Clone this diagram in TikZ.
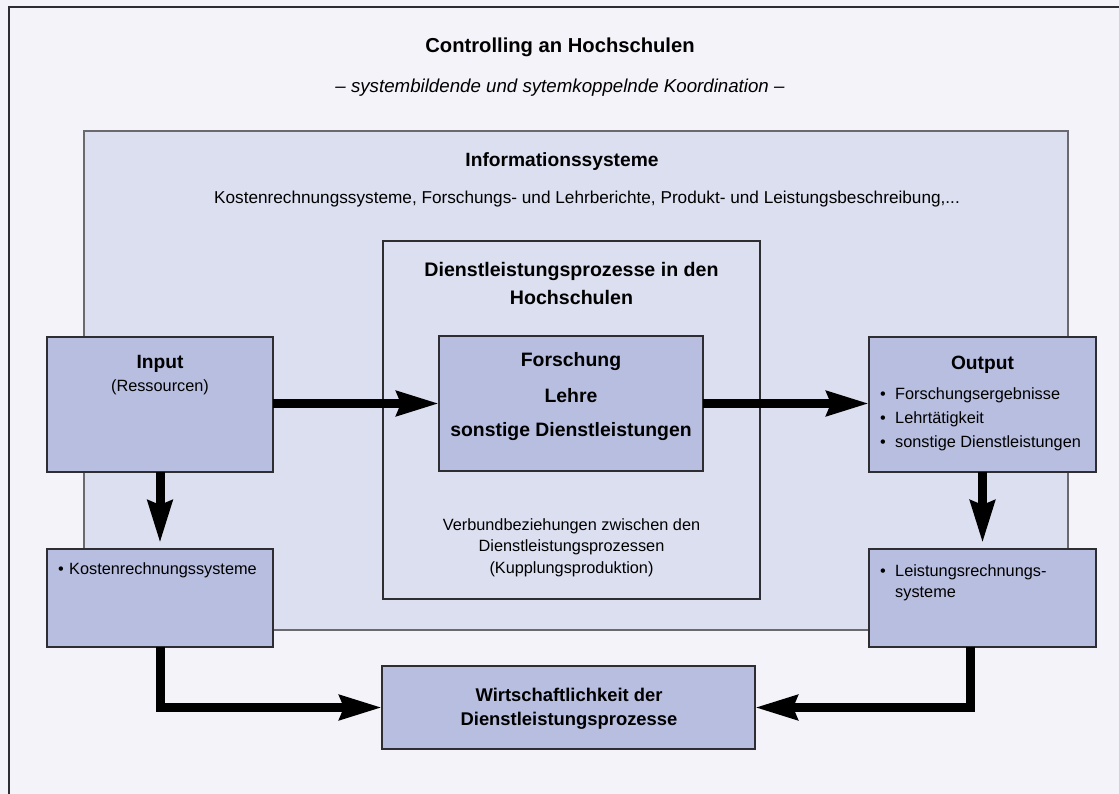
\documentclass[tikz,border=0pt]{standalone}
\usepackage{fontspec}
\setmainfont{Liberation Sans}
\usetikzlibrary{arrows.meta}
\definecolor{pagebg}{RGB}{243,243,249}
\definecolor{infofill}{RGB}{220,223,240}
\definecolor{bluefill}{RGB}{184,190,224}
\definecolor{edgegray}{RGB}{105,105,110}
\definecolor{edgedark}{RGB}{45,45,50}
\begin{document}
\begin{tikzpicture}[x=1pt,y=-1pt,
  frameline/.style={draw=edgedark, line width=1.5pt},
  infobox/.style={draw=edgegray, fill=infofill, line width=1.4pt, inner sep=0pt, outer sep=0pt},
  procbox/.style={draw=edgedark, fill=infofill, line width=1.2pt, inner sep=0pt, outer sep=0pt},
  bluebox/.style={draw=edgedark, fill=bluefill, line width=1.2pt, inner sep=0pt, outer sep=0pt},
  flow/.style={line width=9pt, line join=miter, -{Stealth[length=42pt,width=24pt,inset=4pt]}},
  plaintxt/.style={inner sep=0pt, anchor=base, font=\fontsize{16.3}{19}\selectfont},
  plainw/.style={plaintxt, anchor=base west},
  headtxt/.style={inner sep=0pt, anchor=base, font=\bfseries\fontsize{19.2}{22}\selectfont},
  titletxt/.style={inner sep=0pt, anchor=base, font=\bfseries\fontsize{20.2}{24}\selectfont},
  subtxt/.style={inner sep=0pt, anchor=base, font=\itshape\fontsize{18.7}{22}\selectfont}
]
% page and outer frame
\fill[pagebg] (0,0) rectangle (1119,794);
\useasboundingbox (0,0) rectangle (1119,794);
\draw[frameline] (9,794) -- (9,7) -- (1119,7);

% heading
\node[titletxt] (title) at (560,53) {Controlling an Hochschulen};
\node[subtxt] (subtitle) at (560,93) {– systembildende und sytemkoppelnde Koordination –};

% information systems area
\node[infobox, minimum width=984pt, minimum height=499pt] (info) at (576,380.5) {};
\node[headtxt] (infohead) at (562,167) {Informationssysteme};
\node[plaintxt, font=\fontsize{17.2}{20}\selectfont] (infolist) at (587,204) {Kostenrechnungssysteme, Forschungs- und Lehrberichte, Produkt- und Leistungsbeschreibung,...};

% service processes
\node[procbox, minimum width=377pt, minimum height=358pt] (dienst) at (571.5,420) {};
\node[headtxt, font=\bfseries\fontsize{19.6}{22}\selectfont] (dienstA) at (571.5,276.7) {Dienstleistungsprozesse in den};
\node[headtxt, font=\bfseries\fontsize{19.6}{22}\selectfont] (dienstB) at (571.5,305) {Hochschulen};

\node[bluebox, minimum width=264pt, minimum height=135pt] (forsch) at (571,403.5) {};
\node[headtxt, font=\bfseries\fontsize{19.4}{22}\selectfont] (forschA) at (571,366.7) {Forschung};
\node[headtxt, font=\bfseries\fontsize{19.4}{22}\selectfont] (forschB) at (571,402) {Lehre};
\node[headtxt, font=\bfseries\fontsize{19.4}{22}\selectfont] (forschC) at (571,436.7) {sonstige Dienstleistungen};

\node[plaintxt] (verbA) at (571.5,530) {Verbundbeziehungen zwischen den};
\node[plaintxt] (verbB) at (571.5,551.7) {Dienstleistungsprozessen};
\node[plaintxt] (verbC) at (571.5,573) {(Kupplungsproduktion)};

% input side
\node[bluebox, minimum width=226pt, minimum height=135pt] (input) at (160,404.5) {};
\node[headtxt] (inputA) at (160,368.3) {Input};
\node[plaintxt] (inputB) at (160,391) {(Ressourcen)};

\node[bluebox, minimum width=226pt, minimum height=98pt] (kosten) at (160,598) {};
\node[plainw] (kostenBul) at (58,574) {•};
\node[plainw] (kostenA) at (69,574) {Kostenrechnungssysteme};

% output side
\node[bluebox, minimum width=227pt, minimum height=135pt] (output) at (982.5,404.5) {};
\node[headtxt] (outputA) at (982.5,369) {Output};
\node[plainw] (outBulA) at (880,399.3) {•};
\node[plainw] (outA) at (895,399.3) {Forschungsergebnisse};
\node[plainw] (outBulB) at (880,423.3) {•};
\node[plainw] (outB) at (895,423.3) {Lehrtätigkeit};
\node[plainw] (outBulC) at (880,447.7) {•};
\node[plainw] (outC) at (895,447.7) {sonstige Dienstleistungen};

\node[bluebox, minimum width=227pt, minimum height=98pt] (leist) at (982.5,598) {};
\node[plainw] (leistBul) at (880,576.7) {•};
\node[plainw] (leistA) at (895,576.7) {Leistungsrechnungs-};
\node[plainw] (leistB) at (895,597) {systeme};

% efficiency
\node[bluebox, minimum width=373pt, minimum height=83pt] (wirt) at (568.5,707.5) {};
\node[headtxt, font=\bfseries\fontsize{18.4}{22}\selectfont] (wirtA) at (569,701.7) {Wirtschaftlichkeit der};
\node[headtxt, font=\bfseries\fontsize{18.4}{22}\selectfont] (wirtB) at (569,725) {Dienstleistungsprozesse};

% flows
\draw[flow] (input.east |- forsch.west) -- (forsch.west);
\draw[flow] (forsch.east) -- (output.west |- forsch.east);
\draw[flow] (input.south) -- ([yshift=6pt]kosten.north);
\draw[flow] (output.south) -- ([yshift=6pt]leist.north);
\draw[flow] (kosten.south) |- (wirt.west);
\draw[flow] ([xshift=-12pt]leist.south) |- (wirt.east);
\end{tikzpicture}
\end{document}
